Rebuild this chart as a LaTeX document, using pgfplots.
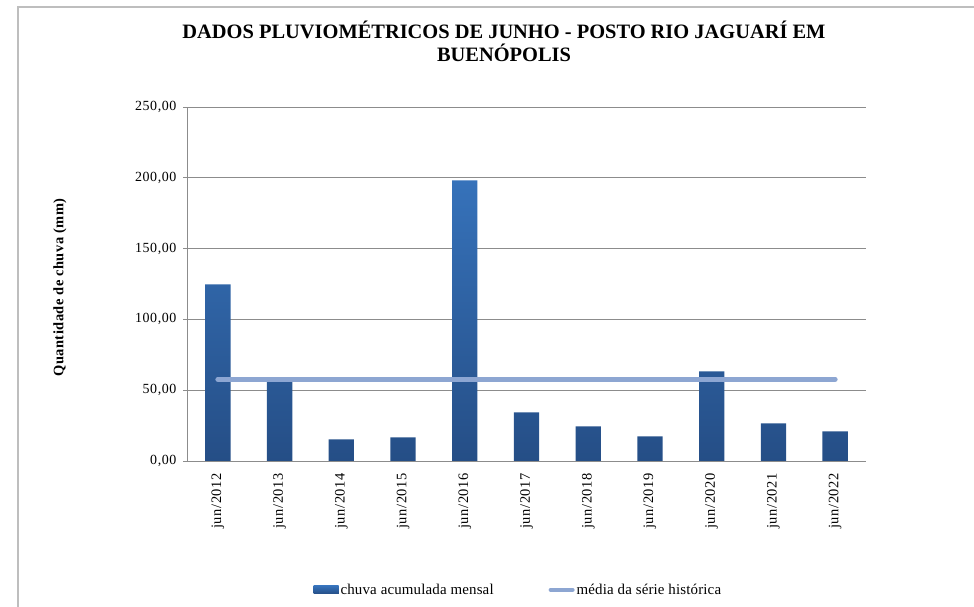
\documentclass[border=0pt]{standalone}
\usepackage{pgfplots}
\pgfplotsset{compat=1.18}
\usepackage{fontspec}
\setmainfont{Liberation Serif}
\newfontfamily\tickfont[LetterSpace=4]{Liberation Serif}
\newfontfamily\xtickfont[LetterSpace=4]{Liberation Serif}
\newfontfamily\legfont[LetterSpace=1]{Liberation Serif}
\newfontfamily\labfont[LetterSpace=3]{Liberation Serif}
\definecolor{bartop}{RGB}{54,114,186}
\definecolor{barbot}{RGB}{37,78,134}
\definecolor{meanc}{RGB}{141,166,210}
\definecolor{gridc}{RGB}{140,140,140}
\definecolor{framec}{RGB}{190,190,190}
\begin{document}
\begin{tikzpicture}[x=1bp,y=1bp]
\useasboundingbox (0,0) rectangle (974,607);
\draw[framec, line width=1.5bp] (18,0) -- (18,600) -- (974,600);
\node[align=center, font=\fontsize{20.5}{23}\selectfont\bfseries] at (504,566)
  {DADOS PLUVIOMÉTRICOS DE JUNHO - POSTO RIO JAGUARÍ EM\\BUENÓPOLIS};
\node[rotate=90, font=\fontsize{14.5}{16}\selectfont\labfont\bfseries] at (60,319.5)
  {Quantidade de chuva (mm)};
\begin{axis}[
  at={(187bp,146bp)}, anchor=south west,
  scale only axis, width=679bp, height=354bp,
  xmin=-0.5, xmax=10.5, ymin=0, ymax=250,
  axis x line*=bottom, axis y line*=left,
  axis line style={gridc, line width=0.8bp},
  ytick={0,50,100,150,200,250},
  ymajorgrids, grid style={gridc, line width=0.8bp},
  tick align=outside, major tick length=4bp,
  ytick style={gridc, line width=0.8bp},
  xtick={0,...,10}, xtick style={draw=none},
  xticklabels={jun/2012,jun/2013,jun/2014,jun/2015,jun/2016,jun/2017,jun/2018,jun/2019,jun/2020,jun/2021,jun/2022},
  xticklabel style={rotate=90, anchor=east, inner xsep=8bp, inner ysep=0pt, font=\fontsize{14.5}{16}\selectfont\xtickfont},
  yticklabel style={font=\fontsize{14}{16}\selectfont\tickfont, inner sep=0pt, xshift=-6.5bp},
  /pgf/number format/assume math mode=true,
  yticklabel={\pgfmathprintnumber[fixed, fixed zerofill, precision=2, use comma, 1000 sep={}]{\tick}},
  legend columns=2,
  legend style={at={(0.488,-0.364)}, anchor=center, draw=none, fill=none,
    font=\fontsize{15}{17}\selectfont\legfont,
    /tikz/every even column/.append style={column sep=53bp},
    inner sep=0pt},
  legend cell align=left,
]
\addplot[ybar, bar width=0.41, draw=none, top color=bartop, bottom color=barbot,
  legend image code/.code={\fill[barbot!80!bartop] (0bp,-4bp) rectangle (25bp,4bp);}]
  coordinates {(0,124.8) (1,56.5) (2,15.3) (3,16.7) (4,198.2) (5,34.4) (6,24.5) (7,17.4) (8,63.3) (9,26.6) (10,21.0)};
\addlegendentry{chuva acumulada mensal}
\addplot[meanc, line width=5bp, line cap=round, mark=none,
  legend image code/.code={\draw[meanc, line width=4bp, line cap=round] (2bp,0bp) -- (24bp,0bp);}]
  coordinates {(0,57.7) (10,57.7)};
\addlegendentry{média da série histórica}
\end{axis}
\end{tikzpicture}
\end{document}
